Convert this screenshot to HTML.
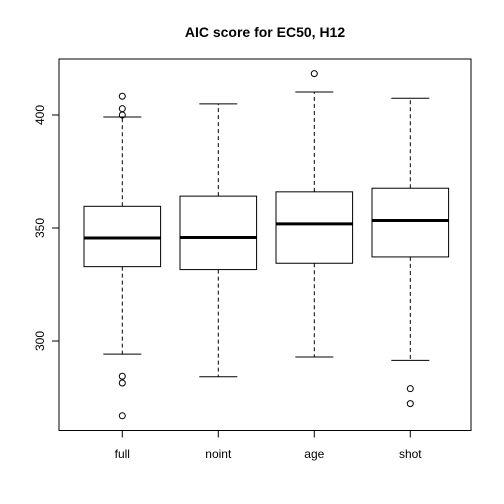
<!DOCTYPE html>
<html><head><meta charset="utf-8"><style>body{margin:0;background:#fff}svg{display:block;font-family:"Liberation Sans",sans-serif}</style></head>
<body>
<svg id="c" width="504" height="504" xmlns="http://www.w3.org/2000/svg"></svg>
<script>
const categories=["full","noint","age","shot"];
const whiskerHigh=[399.1,404.9,410.2,407.4];
const q3=[359.6,364.1,366.0,367.6];
const medians=[345.6,345.8,351.8,353.3];
const q1=[332.9,331.6,334.4,337.2];
const whiskerLow=[294.2,284.2,292.9,291.4];
const outliers=[[408.3,402.8,400.0,284.4,281.4,266.9],[],[418.3],[278.9,272.3]];
const yTicks=[300,350,400];
const title="AIC score for EC50, H12";

const svg=document.getElementById('c');const NS="http://www.w3.org/2000/svg";
const L=59,R=471,T=59,B=430.5;
const y=v=>228-(v-350)*2.26;
const x=i=>122.3+i*96;
function mk(t,a,p){const e=document.createElementNS(NS,t);for(const k in a)e.setAttribute(k,a[k]);(p||svg).appendChild(e);return e;}
const frame=mk('rect',{x:L,y:T,width:R-L,height:B-T,fill:'none',stroke:'#000','stroke-width':1});


const tt=mk('text',{x:265,y:37,'text-anchor':'middle','font-size':14,'font-weight':'bold'});tt.textContent=title;


yTicks.forEach(v=>{
  const g=mk('g',{});
  
  
  mk('line',{x1:L,x2:L-7,y1:y(v),y2:y(v),stroke:'#000'},g);
  const t=mk('text',{x:44,y:y(v),'text-anchor':'middle','font-size':12,transform:`rotate(-90 44 ${y(v)})`},g);t.textContent=v;
});
mk('line',{x1:L,x2:L,y1:y(400),y2:y(300),stroke:'#000'});
categories.forEach((c,i)=>{
  const cx=x(i),hw=38.3,cw=19;
  const g=mk('g',{});
  
  
  mk('line',{x1:cx,x2:cx,y1:y(q3[i]),y2:y(whiskerHigh[i]),stroke:'#000','stroke-dasharray':'4,3'},g);
  mk('line',{x1:cx,x2:cx,y1:y(q1[i]),y2:y(whiskerLow[i]),stroke:'#000','stroke-dasharray':'4,3'},g);
  mk('line',{x1:cx-cw,x2:cx+cw,y1:y(whiskerHigh[i]),y2:y(whiskerHigh[i]),stroke:'#000'},g);
  mk('line',{x1:cx-cw,x2:cx+cw,y1:y(whiskerLow[i]),y2:y(whiskerLow[i]),stroke:'#000'},g);
  mk('rect',{x:cx-hw,y:y(q3[i]),width:2*hw,height:y(q1[i])-y(q3[i]),fill:'#fff',stroke:'#000'},g);
  mk('line',{x1:cx-hw,x2:cx+hw,y1:y(medians[i]),y2:y(medians[i]),stroke:'#000','stroke-width':3},g);
  outliers[i].forEach(v=>mk('circle',{cx:cx,cy:y(v),r:3,fill:'none',stroke:'#000'},g));
  mk('line',{x1:cx,x2:cx,y1:B,y2:B+7,stroke:'#000'},g);
  const t=mk('text',{x:cx,y:458,'text-anchor':'middle','font-size':12},g);t.textContent=c;
});
mk('line',{x1:x(0),x2:x(3),y1:B,y2:B,stroke:'#000'});
</script>
</body></html>
